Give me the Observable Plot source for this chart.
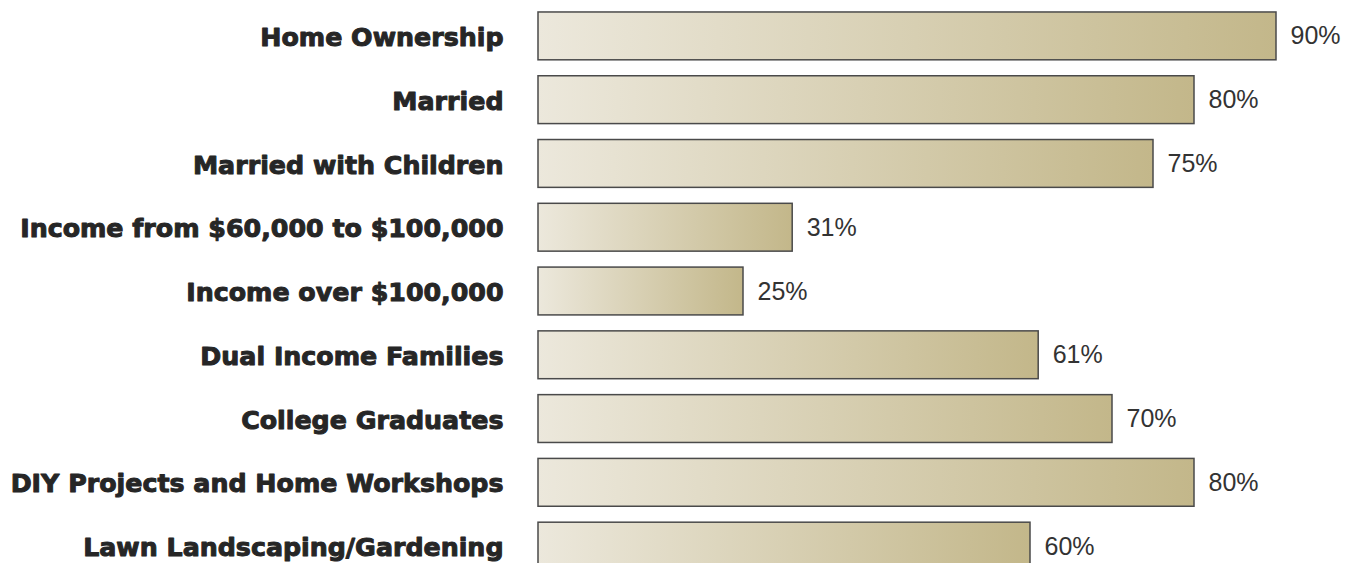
<!DOCTYPE html>
<html>
<head>
<meta charset="utf-8">
<script src="https://cdn.jsdelivr.net/npm/d3@7"></script>
<script src="https://cdn.jsdelivr.net/npm/@observablehq/plot@0.6"></script>
<style>
  html, body { margin: 0; padding: 0; background: #fff; overflow: hidden; }
  #chart svg { display: block; }
</style>
</head>
<body>
<div id="chart"></div>
<script>
const categories = [
  "Home Ownership",
  "Married",
  "Married with Children",
  "Income from $60,000 to $100,000",
  "Income over $100,000",
  "Dual Income Families",
  "College Graduates",
  "DIY Projects and Home Workshops",
  "Lawn Landscaping/Gardening"
];
const values = [90, 80, 75, 31, 25, 61, 70, 80, 60];

const data = categories.map((c, i) => ({category: c, value: values[i]}));

const plot = Plot.plot({
  width: 1346,
  height: 563,
  marginLeft: 0,
  marginRight: 0,
  marginTop: 0,
  marginBottom: 0,
  x: {domain: [0, 90], range: [538, 1276], axis: null},
  y: {domain: categories, range: [4, 578], paddingInner: 0.25, paddingOuter: 0.125, round: false, axis: null},
  marks: [
    Plot.barX(data, {
      x: "value",
      y: "category",
      fill: "url(#barGrad)",
      stroke: "#4a4a4a",
      strokeWidth: 1.5
    }),
    Plot.text(data, {
      x: "value",
      y: "category",
      text: d => d.value + "%",
      textAnchor: "start",
      dx: 14,
      fontSize: 25,
      fontFamily: "Liberation Sans, Arial, sans-serif",
      fill: "#333"
    }),
    Plot.text(data, {
      x: 0,
      y: "category",
      text: "category",
      textAnchor: "end",
      dx: -35,
      dy: 1.5,
      fontSize: 25.3,
      fontWeight: "bold",
      fontFamily: "DejaVu Sans, sans-serif",
      fill: "#262626",
      stroke: "#262626",
      strokeWidth: 1
    })
  ]
});

const svg = d3.select(plot);
const defs = svg.insert("defs", ":first-child");
const g = defs.append("linearGradient")
  .attr("id", "barGrad")
  .attr("x1", "0").attr("y1", "0").attr("x2", "1").attr("y2", "0");
g.append("stop").attr("offset", "0%").attr("stop-color", "#ece8dc");
g.append("stop").attr("offset", "100%").attr("stop-color", "#c3b78a");

document.getElementById("chart").appendChild(plot);
</script>
</body>
</html>
